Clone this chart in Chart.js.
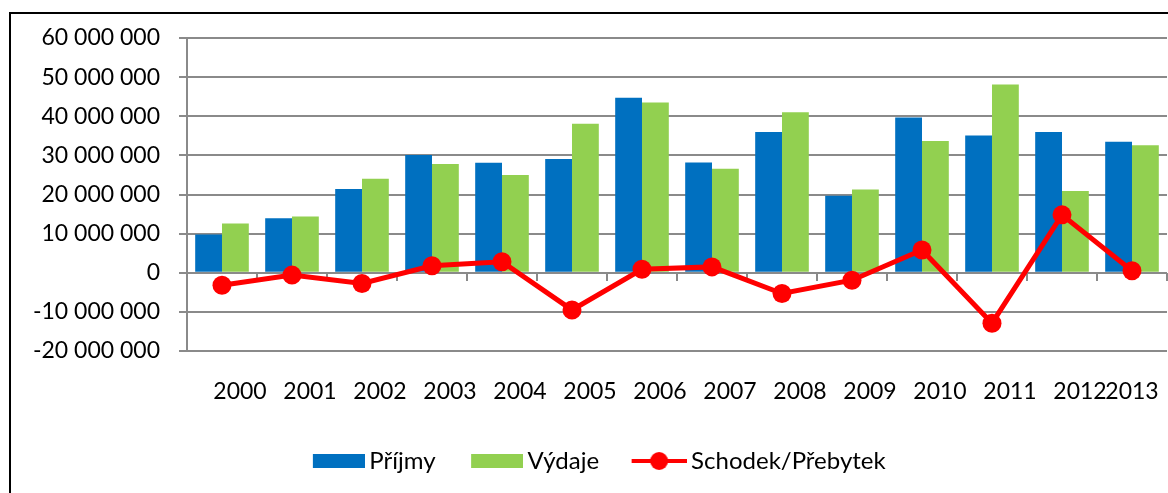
<!DOCTYPE html>
<html>
<head>
<meta charset="utf-8">
<script src="https://cdn.jsdelivr.net/npm/chart.js@4"></script>
<style>
html,body{margin:0;padding:0;background:#fff;}
#wrap{width:1168px;height:493px;position:relative;}
</style>
</head>
<body>
<div id="wrap"><canvas id="c" width="1168" height="493"></canvas></div>
<script>
const categories = ['2000','2001','2002','2003','2004','2005','2006','2007','2008','2009','2010','2011','2012','2013'];
const prijmy = [9800000, 13900000, 21400000, 30100000, 28100000, 29100000, 44700000, 28200000, 36000000, 19700000, 39700000, 35100000, 36000000, 33500000];
const vydaje = [12600000, 14400000, 24000000, 27800000, 25000000, 38100000, 43500000, 26600000, 41000000, 21300000, 33700000, 48100000, 20900000, 32600000];
const saldo = [-3200000, -600000, -2750000, 1800000, 2800000, -9500000, 900000, 1500000, -5300000, -1900000, 5800000, -12900000, 14800000, 500000];
const seriesNames = ['Příjmy', 'Výdaje', 'Schodek/Přebytek'];
const yMin = -20000000, yMax = 60000000, yStep = 10000000;

const BLUE = '#0070C0', GREEN = '#92D050', RED = '#FF0000', GRID = '#8a8a8a';

function fmt(v) {
  const s = Math.abs(v).toString().replace(/\B(?=(\d{3})+(?!\d))/g, ' ');
  return (v < 0 ? '-' : '') + s;
}

const IMG_W = 83;
function boxImg(color) {
  const c = document.createElement('canvas');
  c.width = IMG_W; c.height = 20;
  const g = c.getContext('2d');
  g.fillStyle = color;
  g.fillRect(IMG_W - 52, 3, 52, 14);
  return c;
}
function lineImg() {
  const c = document.createElement('canvas');
  c.width = IMG_W; c.height = 20;
  const g = c.getContext('2d');
  g.strokeStyle = RED; g.lineWidth = 4;
  g.beginPath(); g.moveTo(IMG_W - 55, 10); g.lineTo(IMG_W, 10); g.stroke();
  g.fillStyle = RED;
  g.beginPath(); g.arc(IMG_W - 27.5, 10, 9, 0, Math.PI * 2); g.fill();
  return c;
}
const legendImgs = [boxImg(BLUE), boxImg(GREEN), lineImg()];

const framePlugin = {
  id: 'frame',
  beforeDraw(chart) {
    const ctx = chart.ctx;
    ctx.save();
    ctx.fillStyle = '#fff';
    ctx.fillRect(0, 0, chart.width, chart.height);
    ctx.fillStyle = '#000';
    ctx.fillRect(9, 12, 2, chart.height);
    ctx.fillRect(9, 12, chart.width, 2);
    ctx.restore();
  }
};

Chart.defaults.font.family = 'Lato';
Chart.defaults.font.size = 23;
Chart.defaults.color = '#000';

new Chart(document.getElementById('c'), {
  type: 'bar',
  data: {
    labels: categories,
    datasets: [
      { type: 'line', label: seriesNames[2], data: saldo, borderColor: RED, backgroundColor: RED,
        borderWidth: 5, pointRadius: 9.5, pointHoverRadius: 9.5, pointBackgroundColor: RED,
        pointBorderWidth: 0, tension: 0, order: 0, xAxisID: 'x', yAxisID: 'y', clip: false },
      { label: seriesNames[0], data: prijmy, backgroundColor: BLUE, order: 1,
        categoryPercentage: 0.766, barPercentage: 1.0, xAxisID: 'x', yAxisID: 'y' },
      { label: seriesNames[1], data: vydaje, backgroundColor: GREEN, order: 1,
        categoryPercentage: 0.766, barPercentage: 1.0, xAxisID: 'x', yAxisID: 'y' }
    ]
  },
  options: {
    responsive: false,
    animation: false,
    events: [],
    layout: { autoPadding: false, padding: { top: 38, left: 8, right: 1, bottom: 10 } },
    plugins: {
      tooltip: { enabled: false },
      legend: {
        position: 'bottom',
        labels: {
          usePointStyle: true,
          pointStyleWidth: 68,
          padding: 12,
          font: { family: 'Lato', size: 24 },
          color: '#000',
          generateLabels: () => [0, 1, 2].map(i => ({
            text: seriesNames[i],
            pointStyle: legendImgs[i],
            fillStyle: 'transparent',
            strokeStyle: 'transparent',
            lineWidth: 0,
            hidden: false,
            datasetIndex: i === 2 ? 0 : i + 1
          }))
        }
      }
    },
    scales: {
      x: {
        type: 'category',
        position: 'bottom',
        offset: true,
        grid: { display: false, drawTicks: true, tickLength: 27, offset: true },
        border: { display: false },
        ticks: {
          autoSkip: false, maxRotation: 0, minRotation: 0, padding: 0, labelOffset: 18,
          callback: (v, i) => i === categories.length - 1 ? '' : categories[i]
        },
        afterFit: s => { s.height = 86; }
      },
      xLast: {
        type: 'category',
        position: { y: yMin },
        offset: true,
        grid: { display: false, drawTicks: true, tickLength: 27, offset: true },
        border: { display: false },
        ticks: {
          autoSkip: false, maxRotation: 0, minRotation: 0, padding: 0, labelOffset: 0,
          callback: (v, i) => i === categories.length - 1 ? categories[i] : ''
        }
      },
      xTicks: {
        type: 'category',
        position: { y: 0 },
        offset: true,
        grid: { display: true, drawOnChartArea: false, drawTicks: true, tickLength: 8, offset: true, color: GRID, lineWidth: 2 },
        border: { display: false },
        ticks: { display: false }
      },
      y: {
        type: 'linear',
        position: 'left',
        min: yMin, max: yMax,
        grid: { color: GRID, lineWidth: 2, tickLength: 8 },
        border: { color: GRID, width: 2 },
        ticks: { stepSize: yStep, padding: 19, callback: v => fmt(v) },
        afterFit: s => { s.width = 179; }
      }
    }
  },
  plugins: [framePlugin]
});
</script>
</body>
</html>
